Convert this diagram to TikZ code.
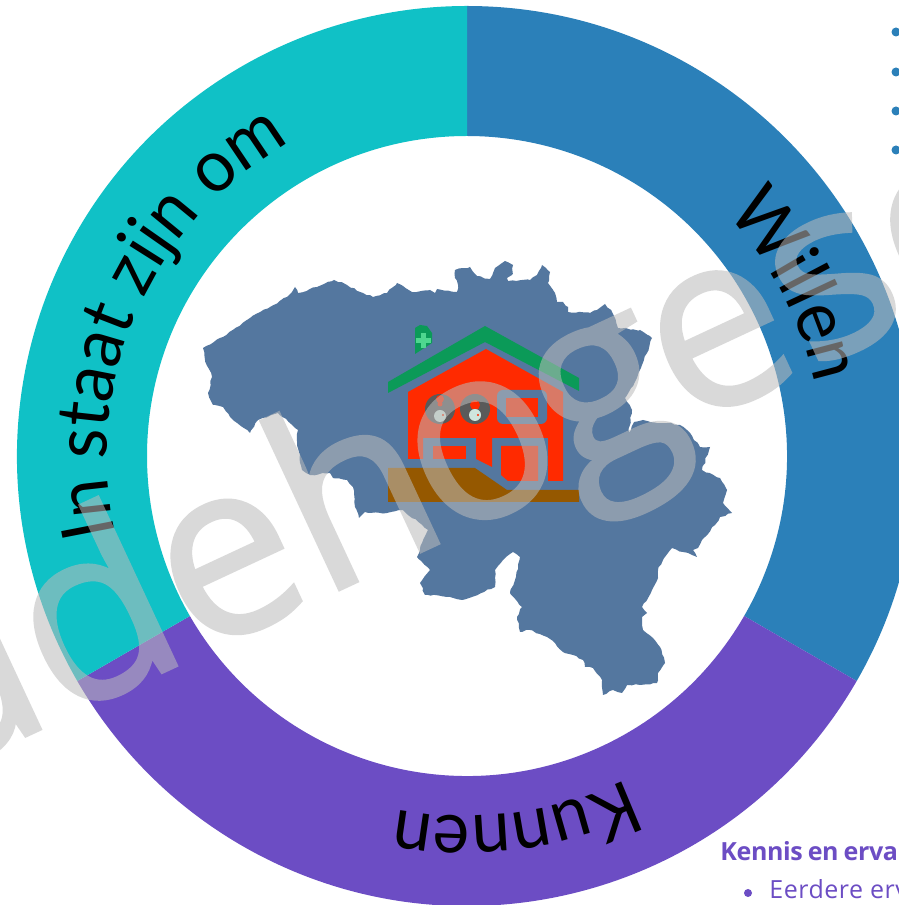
\documentclass[tikz,border=0pt]{standalone}
\usepackage{fontspec}
\usetikzlibrary{calc,decorations.text,decorations.pathmorphing}
\setmainfont{Open Sans}
\newfontfamily\opensansface{Open Sans}
\newfontfamily\markface[FakeBold=1.2]{Open Sans}
\newfontfamily\ringbase[FakeStretch=.95]{Lato}
\newcommand{\ringface}{\ringbase\fontsize{36.5}{40}\selectfont}
\definecolor{ringblue}{HTML}{2B80B9}
\definecolor{ringteal}{HTML}{10C1C6}
\definecolor{ringpurple}{HTML}{6C4DC4}
\definecolor{mapblue}{HTML}{54779F}
\definecolor{housered}{HTML}{FF2A00}
\definecolor{roofgreen}{HTML}{0B9A58}
\definecolor{crossgreen}{HTML}{4FD68F}
\definecolor{groundbrown}{HTML}{955800}
\definecolor{markgrey}{HTML}{BBBBBB}
\definecolor{porthole}{HTML}{5A5A5A}
\definecolor{headpale}{HTML}{CFE6DE}
\tikzset{
  ringlabel/.style={decorate,decoration={text along path,text align=center,text={|\ringface|#1}}},
  wallcut/.style={fill=mapblue},
  redpane/.style={fill=housered},
  watermark/.style={text=markgrey,inner sep=0pt,anchor=base west,rotate=25,
    font=\markface\fontsize{122.5}{130}\selectfont},
  jagged/.style={decorate,decoration={random steps,segment length=2pt,amplitude=.4pt}},
}
\begin{document}
\begin{tikzpicture}[x=.5pt,y=.5pt]
\pgfmathsetseed{7}
\useasboundingbox (0,0) rectangle (899,905);
\clip (0,0) rectangle (899,905);
\fill[white] (0,0) rectangle (899,905);
\coordinate (c) at (467,449);
% ring
\fill[ringblue]   ($(c)+(90:450)$) arc[start angle=90,end angle=-30,radius=450] -- ++(150:130) arc[start angle=-30,end angle=90,radius=320] -- cycle;
\fill[ringpurple] ($(c)+(-30:450)$) arc[start angle=-30,end angle=-150,radius=450] -- ++(30:130) arc[start angle=-150,end angle=-30,radius=320] -- cycle;
\fill[ringteal]   ($(c)+(210:450)$) arc[start angle=210,end angle=90,radius=450] -- ++(-90:130) arc[start angle=90,end angle=210,radius=320] -- cycle;
% ring labels
\path[ringlabel={In staat zijn om}] ($(c)+(216:360)$) arc[start angle=216,end angle=96,radius=360];
\path[ringlabel={Willen}] ($(c)+(68.5:355)$) arc[start angle=68.5,end angle=-13.5,radius=355];
\path[ringlabel={Kunnen}] ($(c)+(-40.5:360)$) arc[start angle=-40.5,end angle=-124.5,radius=360];
\begin{scope}[shift={(0,905)},yscale=-1]
% map of Belgium
\fill[mapblue,jagged] (203,348)--(223,337)--(250,318)--(270,307)--(287,297)--(292,292)--(295,287)--(298,293)--(317,287)--(334,280)--(347,285)--(363,293)--(373,297)--(387,293)--(397,283)--(403,286)--(412,292)--(430,290)--(435,293)--(437,289)--(457,292)--(458,285)--(455,278)--(455,270)--(470,267)--(477,276)--(490,279)--(495,268)--(505,261)--(513,265)--(512,275)--(507,278)--(508,281)--(530,280)--(537,275)--(542,265)--(550,272)--(548,283)--(555,293)--(557,302)--(563,302)--(568,307)--(568,312)--(590,313)--(597,310)--(605,304)--(612,312)--(618,328)--(640,330)--(652,338)--(647,353)--(642,365)--(637,378)--(625,398)--(632,410)--(630,425)--(627,437)--(631,430)--(634,422)--(643,420)--(657,423)--(667,423)--(680,425)--(687,430)--(700,447)--(710,447)--(702,470)--(720,478)--(727,490)--(723,503)--(732,513)--(720,517)--(715,525)--(702,540)--(698,548)--(693,550)--(697,557)--(692,555)--(683,552)--(672,548)--(663,560)--(658,570)--(658,578)--(652,590)--(642,607)--(647,613)--(642,617)--(643,630)--(653,638)--(660,647)--(665,663)--(658,673)--(657,683)--(640,685)--(627,685)--(622,693)--(613,690)--(603,695)--(602,680)--(593,668)--(585,667)--(583,660)--(573,655)--(563,652)--(555,643)--(547,637)--(530,630)--(520,632)--(517,617)--(522,607)--(510,593)--(515,580)--(520,557)--(513,552)--(503,560)--(495,570)--(495,587)--(472,597)--(462,600)--(450,597)--(428,595)--(425,595)--(420,583)--(430,570)--(417,557)--(422,543)--(428,530)--(403,510)--(387,513)--(365,512)--(359,518)--(355,507)--(353,487)--(347,480)--(333,478)--(330,473)--(310,475)--(302,470)--(297,443)--(298,430)--(278,413)--(258,420)--(250,433)--(230,417)--(223,407)--(213,405)--(208,393)--(212,377)--(205,360)--cycle;
% building
\fill[roofgreen] (388,382)--(485,326)--(579,378)--(579,391)--(485,342)--(388,393)--cycle;
\fill[roofgreen] (415,328)--(420,325)--(427,326)--(432,333)--(432,343)--(415,354)--cycle;
\fill[crossgreen] (420.5,333.5) rectangle (425.5,348.5);
\fill[crossgreen] (415.5,338.5) rectangle (430.5,343.5);
\fill[housered] (408,392)--(486,349)--(563,392)--(563,481)--(548,481)--(548,438)--(492,438)--(492,467)--(476,459)--(476,438)--(423,438)--(423,459)--(408,459)--cycle;
\fill[wallcut,rounded corners=3pt] (497,390) rectangle (547,424);
\fill[redpane] (506,398) rectangle (538,417);
\fill[redpane] (433,446) rectangle (466,459);
\fill[redpane] (501,446)--(538,446)--(538,481)--(508,481)--(501,475)--cycle;
\fill[porthole] (440,409) circle[radius=15];
\fill[porthole] (475,409) circle[radius=15];
\fill[housered] (440,399) circle[radius=4];
\fill[housered] (440,404) circle[radius=2.5];
\fill[housered] (475,405) circle[radius=5];
\fill[headpale] (440,416) circle[radius=6];
\fill[headpale] (475,415) circle[radius=6];
\fill[housered] (443,415) circle[radius=1.2];
\fill[housered] (478,415) circle[radius=1.2];
\fill[groundbrown] (388,468)--(475,468)--(507,490)--(579,490)--(579,502)--(388,502)--cycle;
% bullets
\foreach \by in {32,72,111,150} \fill[ringblue] (896,\by) circle[radius=4.5];
\fill[ringpurple] (748,893) circle[radius=4];
\end{scope}
\node[anchor=base west,inner sep=0pt,text=ringpurple,font=\opensansface\bfseries\fontsize{12.5}{14}\selectfont] (kennis) at (720,44) {\addfontfeatures{LetterSpace=-1.5}\spaceskip=2.5pt\relax Kennis en erva};
\node[anchor=base west,inner sep=0pt,text=ringpurple,font=\opensansface\fontsize{12.5}{14}\selectfont] (eerdere) at (769,6) {\addfontfeatures{LetterSpace=2}Eerdere erv};
% watermark
\begin{scope}[transparency group,opacity=.55]
\node[watermark] (wm) at (-77,121) {udeh\kern-7.5pt o\kern-4.5pt g\kern-3pt esc};
\end{scope}
\end{tikzpicture}
\end{document}
